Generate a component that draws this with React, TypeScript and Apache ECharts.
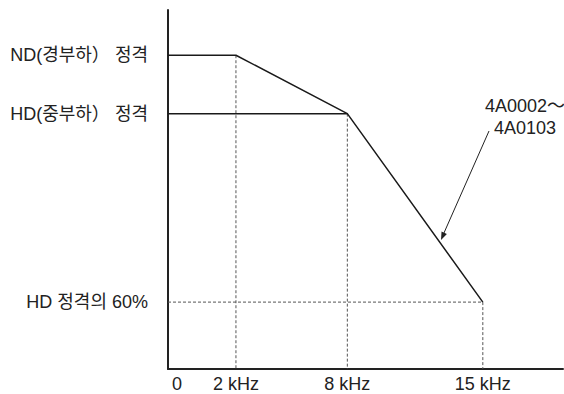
import React, { useEffect, useRef } from "react";
import * as echarts from "echarts";

// Schematic (non-linear) frequency axis: frequency stops and where they sit on a 0..100 axis
const freqStops = [0, 2, 8, 15];
const axisStops = [0, 17.2, 45.4, 79.7];

const xTickFreqs = [0, 2, 8, 15];
const xTickLabels = ["0", "2 kHz", "8 kHz", "15 kHz"];

const yTickValues = [60, 100, 112.4];
const yTickLabels = ["HD 정격의 60%", "HD(중부하） 정격", "ND(경부하） 정격"];

// ND curve (4A0002~4A0103)
const ndFreq = [0, 2, 8, 15];
const ndValue = [112.4, 112.4, 100, 60];

// HD rated level
const hdFreq = [0, 8];
const hdValue = [100, 100];

// Dashed guide lines: [freq, value] start -> drop to axis
const guideFreq = [2, 8, 15];
const guideValue = [112.4, 100, 60];

const Y_MIN = 45.8;
const Y_MAX = 122;

const FONT = "'Liberation Sans', Arial, 'Noto Sans CJK KR', sans-serif";
const FS = 18;

function toAxis(f: number): number {
  for (let i = 0; i < freqStops.length - 1; i++) {
    const a = freqStops[i];
    const b = freqStops[i + 1];
    if (f <= b) {
      return axisStops[i] + ((f - a) / (b - a)) * (axisStops[i + 1] - axisStops[i]);
    }
  }
  return axisStops[axisStops.length - 1];
}

function nearestIndex(arr: number[], v: number): number {
  let best = 0;
  for (let i = 1; i < arr.length; i++) {
    if (Math.abs(arr[i] - v) < Math.abs(arr[best] - v)) best = i;
  }
  return best;
}

export default function App() {
  const ref = useRef<HTMLDivElement>(null);

  useEffect(() => {
    if (!ref.current) return;
    const chart = echarts.init(ref.current, undefined, { renderer: "svg" });
    const xTickPos = xTickFreqs.map(toAxis);

    const dashed = {
      color: "#555",
      width: 1,
      type: [3, 2] as any,
    };

    const guideSeries: any[] = guideFreq.map((f, i) => ({
      type: "line",
      data: [
        [toAxis(f), guideValue[i]],
        [toAxis(f), Y_MIN],
      ],
      showSymbol: false,
      lineStyle: dashed,
      z: 1,
    }));
    guideSeries.push({
      type: "line",
      data: [
        [toAxis(0), guideValue[2]],
        [toAxis(guideFreq[2]), guideValue[2]],
      ],
      showSymbol: false,
      lineStyle: dashed,
      z: 1,
    });

    chart.setOption({
      animation: false,
      grid: { left: 168, right: 1, top: 10, bottom: 25, containLabel: false },
      xAxis: {
        type: "value",
        min: 0,
        max: 100,
        axisLine: { show: true, onZero: false, lineStyle: { color: "#222", width: 2 } },
        axisTick: { show: false },
        splitLine: { show: false },
        axisLabel: {
          customValues: xTickPos,
          margin: 6,
          fontSize: FS,
          color: "#222",
          fontFamily: FONT,
          showMinLabel: true,
          showMaxLabel: true,
          formatter: (v: number) => {
            const i = nearestIndex(xTickPos, v);
            if (i === 0) return "{z|" + xTickLabels[0] + "}";
            return xTickLabels[i];
          },
          rich: {
            z: { fontSize: FS, color: "#222", fontFamily: FONT, padding: [0, 0, 0, 18] },
          },
        },
      },
      yAxis: {
        type: "value",
        min: Y_MIN,
        max: Y_MAX,
        axisLine: { show: true, onZero: false, lineStyle: { color: "#222", width: 2 } },
        axisTick: { show: false },
        splitLine: { show: false },
        axisLabel: {
          customValues: yTickValues,
          margin: 20,
          fontSize: FS,
          color: "#222",
          fontFamily: FONT,
          showMinLabel: true,
          showMaxLabel: true,
          formatter: (v: number) => yTickLabels[nearestIndex(yTickValues, v)],
        },
      },
      series: [
        ...guideSeries,
        {
          type: "line",
          data: ndFreq.map((f, i) => [toAxis(f), ndValue[i]]),
          showSymbol: false,
          lineStyle: { color: "#1a1a1a", width: 1.5 },
          z: 3,
        },
        {
          type: "line",
          data: hdFreq.map((f, i) => [toAxis(f), hdValue[i]]),
          showSymbol: false,
          lineStyle: { color: "#1a1a1a", width: 1.5 },
          z: 3,
        },
      ],
      graphic: [
        {
          type: "text",
          x: 525,
          y: 116.5,
          style: {
            text: "4A0002～\n4A0103",
            fontSize: FS,
            fontFamily: FONT,
            fill: "#222",
            align: "center",
            verticalAlign: "middle",
            lineHeight: 22,
          },
        },
        {
          type: "line",
          shape: { x1: 489, y1: 131, x2: 443.5, y2: 234 },
          style: { stroke: "#222", lineWidth: 1 },
        },
        {
          type: "polygon",
          shape: {
            points: [
              [441, 240],
              [446.9, 233.9],
              [441.5, 231.5],
            ],
          },
          style: { fill: "#222" },
        },
      ],
    });
    return () => chart.dispose();
  }, []);

  return (
    <div
      ref={ref}
      style={{ position: "fixed", left: 0, top: 0, width: 564, height: 394, background: "#fff" }}
    />
  );
}
